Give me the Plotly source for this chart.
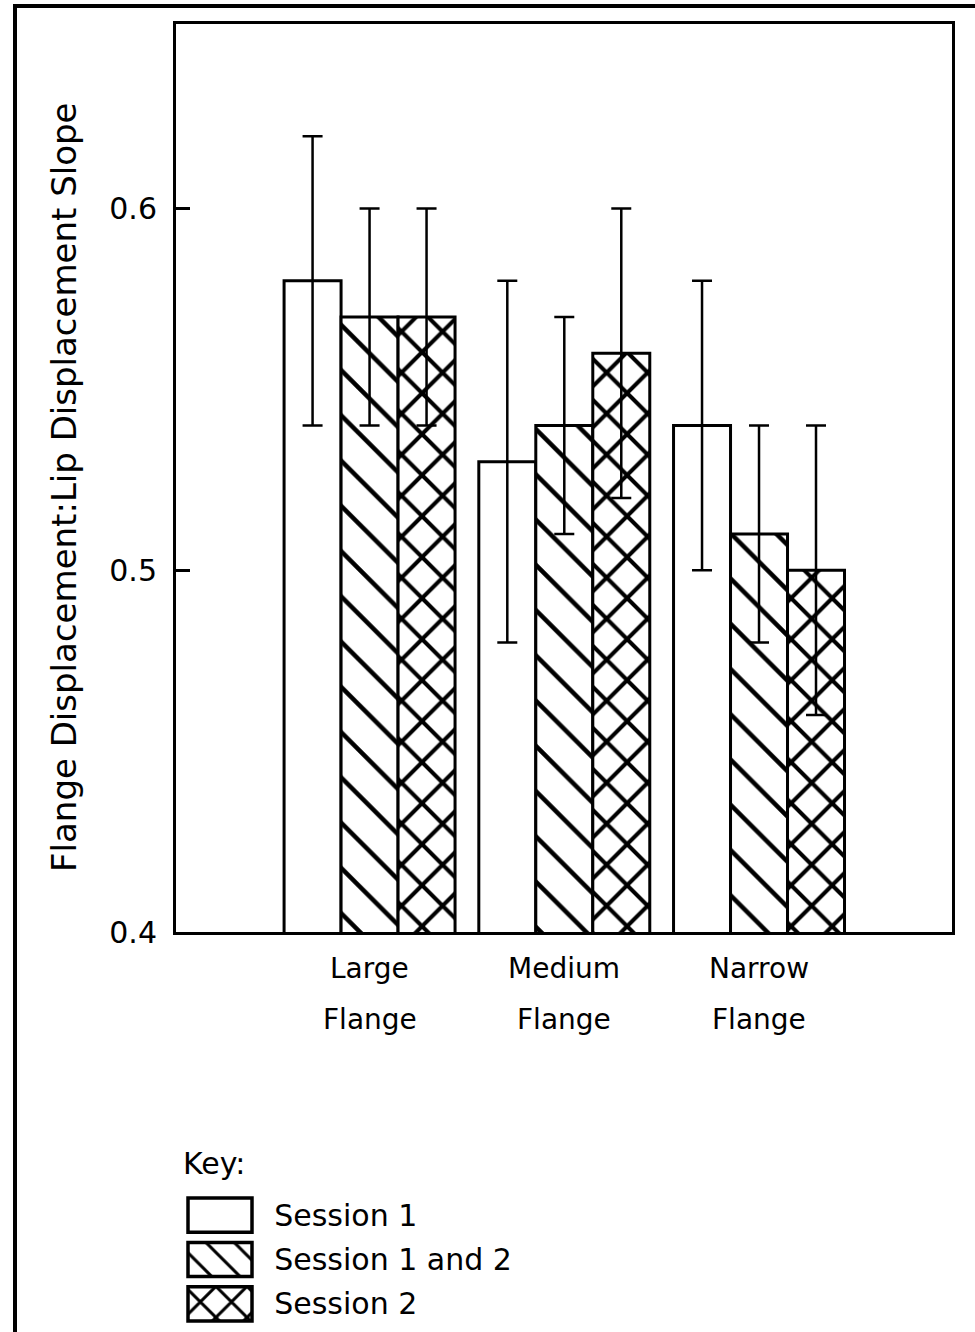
import plotly.graph_objects as go

# Slope data: mean and error half-width for each flange width and session
categories = ["Large Flange", "Medium Flange", "Narrow Flange"]
series_names = ["Session 1", "Session 1 and 2", "Session 2"]
session1 = [0.58, 0.53, 0.54]
session1_err = [0.04, 0.05, 0.04]
session12 = [0.57, 0.54, 0.51]
session12_err = [0.03, 0.03, 0.03]
session2 = [0.57, 0.56, 0.50]
session2_err = [0.03, 0.04, 0.04]
y_ticks = [0.4, 0.5, 0.6]
y_tick_labels = ["0.4", "0.5", "0.6"]

W, H = 975, 1332
FONT = "DejaVu Sans"


def px_x(p):
    return p / W


def px_y(p):
    return 1 - p / H


series_values = [session1, session12, session2]
series_errors = [session1_err, session12_err, session2_err]
pattern_shapes = ["", "\\", "x"]
pattern_sizes = [32, 32, 29]
pattern_solidity = [0.14, 0.14, 0.26]

fig = go.Figure()

for name, vals, errs, shape, size, solid in zip(series_names, series_values, series_errors,
                                                pattern_shapes, pattern_sizes, pattern_solidity):
    fig.add_trace(go.Bar(
        x=categories, y=vals, name=name,
        marker=dict(
            color="white",
            line=dict(color="black", width=3),
            pattern=dict(shape=shape, size=size, solidity=solid,
                         fgcolor="black", fgopacity=1, bgcolor="white"),
        ),
        error_y=dict(type="data", array=errs, visible=True, color="black",
                     thickness=2.5, width=10),
        showlegend=False, xaxis="x", yaxis="y",
    ))

# Key swatches drawn on their own small axes; the series names are its tick labels
fig.add_trace(go.Bar(
    x=[1] * len(series_names), y=series_names, orientation="h", base=0,
    width=0.77,
    marker=dict(
        color="white",
        line=dict(color="black", width=3.5),
        pattern=dict(shape=pattern_shapes, size=[20, 20, 22],
                     solidity=[0.15, 0.15, 0.25],
                     fgcolor="black", fgopacity=1, bgcolor="white"),
    ),
    showlegend=False, xaxis="x2", yaxis="y2", hoverinfo="skip",
))

annotations = [
    dict(text="Flange Displacement:Lip Displacement Slope", textangle=-90,
         x=px_x(64), y=px_y(487), xref="paper", yref="paper",
         xanchor="center", yanchor="middle", showarrow=False,
         font=dict(family=FONT, size=34, color="black")),
    dict(text="Key:", x=px_x(181), y=px_y(1163), xref="paper", yref="paper",
         xanchor="left", yanchor="middle", showarrow=False,
         font=dict(family=FONT, size=30, color="black")),
]
for cat in categories:
    first, second = cat.split(" ", 1)
    for line, ypix in ((first, 968), (second, 1019)):
        annotations.append(dict(
            text=line, x=cat, y=px_y(ypix), xref="x", yref="paper",
            xanchor="center", yanchor="middle", showarrow=False,
            font=dict(family=FONT, size=28, color="black")))

# Outer frame along the left and top of the page
frame_path = "M {l},-0.01 L {l},{t} L 1.01,{t}".format(l=px_x(15), t=px_y(6))

fig.update_layout(
    width=W, height=H, autosize=False,
    margin=dict(l=0, r=0, t=0, b=0, autoexpand=False),
    paper_bgcolor="white", plot_bgcolor="white",
    barmode="group", bargap=0.122, bargroupgap=0,
    showlegend=False,
    font=dict(family=FONT, color="black"),
    xaxis=dict(
        domain=[px_x(176), px_x(952)], range=[-0.994, 2.991],
        showticklabels=False, ticks="", showline=True, linecolor="black",
        linewidth=3, mirror=True, showgrid=False, zeroline=False, anchor="y",
        automargin=False,
    ),
    yaxis=dict(
        domain=[px_y(932), px_y(24)], range=[0.4, 0.651],
        tickvals=y_ticks, ticktext=y_tick_labels,
        ticks="inside", ticklen=14, tickwidth=3, tickcolor="black",
        showline=True, linecolor="black", linewidth=3, mirror=True,
        showgrid=False, zeroline=False, anchor="x", automargin=False,
        tickfont=dict(family=FONT, size=30, color="black"),
        ticklabelstandoff=10,
    ),
    xaxis2=dict(
        domain=[px_x(184.8), px_x(255.2)], range=[-0.05, 1.05],
        visible=False, anchor="y2", fixedrange=True, automargin=False,
    ),
    yaxis2=dict(
        domain=[px_y(1326), px_y(1193)], anchor="x2", side="right",
        type="category", categoryarray=series_names, range=[2.5, -0.5],
        ticks="", showline=False, showgrid=False, zeroline=False,
        tickfont=dict(family=FONT, size=30, color="black"),
        ticklabelstandoff=18, fixedrange=True, automargin=False,
    ),
    annotations=annotations,
    shapes=[dict(type="path", path=frame_path, xref="paper", yref="paper",
                 line=dict(color="black", width=4))],
)

fig.write_html("out.html")
